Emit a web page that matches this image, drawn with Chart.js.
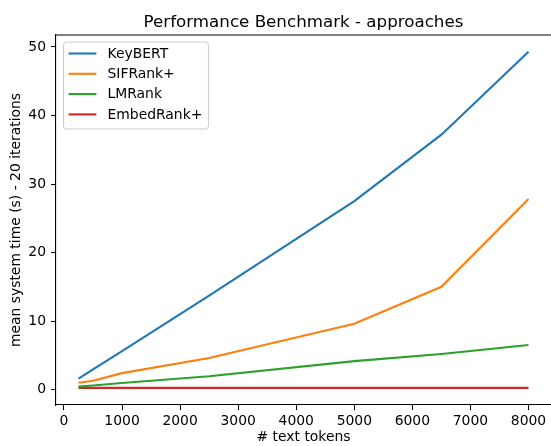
<!DOCTYPE html>
<html><head><meta charset="utf-8">
<script src="https://cdn.jsdelivr.net/npm/chart.js@4/dist/chart.umd.min.js"></script>
<style>html,body{margin:0;padding:0;background:#fff}</style>
</head><body>
<canvas id="c" width="551" height="446"></canvas>
<script>
// ---- data ----
const tokens    = [250, 500, 1000, 2500, 5000, 6500, 8000];
const keybert   = [1.6, 2.95, 5.6, 13.7, 27.5, 37.2, 49.3];
const sifrank   = [1.0, 1.3, 2.4, 4.6, 9.6, 15.0, 27.8];
const lmrank    = [0.45, 0.6, 0.95, 1.95, 4.15, 5.2, 6.5];
const embedrank = [0.25, 0.25, 0.25, 0.25, 0.25, 0.25, 0.25];
const seriesNames = ['KeyBERT', 'SIFRank+', 'LMRank', 'EmbedRank+'];
const xTicks = [0, 1000, 2000, 3000, 4000, 5000, 6000, 7000, 8000];
const yTicks = [0, 10, 20, 30, 40, 50];
const titleText = 'Performance Benchmark - approaches';
const xTitle = '# text tokens';
const yTitle = 'mean system time (s) - 20 iterations';

const colors = ['#1f77b4', '#ff7f0e', '#2ca02c', '#d62728'];
const allSeries = [keybert, sifrank, lmrank, embedrank];
const FS = 13.9;
Chart.defaults.font.family = 'DejaVu Sans';
Chart.defaults.color = '#000';

const extras = {
  id: 'extras',
  afterDraw(chart) {
    const {ctx, chartArea: a} = chart;
    ctx.save();
    // top spine
    ctx.strokeStyle = '#000'; ctx.lineWidth = 1.1;
    ctx.beginPath(); ctx.moveTo(a.left - 0.5, a.top); ctx.lineTo(a.right + 1, a.top); ctx.stroke();
    // title
    ctx.fillStyle = '#000';
    ctx.font = '16.7px "DejaVu Sans"';
    ctx.textAlign = 'center'; ctx.textBaseline = 'alphabetic';
    ctx.fillText(titleText, (a.left + a.right) / 2, a.top - 8.3);
    // legend
    ctx.font = FS + 'px "DejaVu Sans"';
    let maxW = 0;
    seriesNames.forEach(n => { maxW = Math.max(maxW, ctx.measureText(n).width); });
    const lx = a.left + 7, ly = a.top + 6.5;
    const w = 5.6 + 27.8 + 11.1 + maxW + 5.6;
    const h = 87;
    ctx.beginPath();
    ctx.roundRect(lx + 0.5, ly + 0.5, w, h, 3);
    ctx.fillStyle = 'rgba(255,255,255,0.8)'; ctx.fill();
    ctx.strokeStyle = '#cccccc'; ctx.lineWidth = 1; ctx.stroke();
    seriesNames.forEach((n, i) => {
      const cy = ly + 12 + i * 20.3;
      ctx.strokeStyle = colors[i]; ctx.lineWidth = 2.1;
      ctx.beginPath(); ctx.moveTo(lx + 5.6, cy); ctx.lineTo(lx + 5.6 + 27.8, cy); ctx.stroke();
      ctx.fillStyle = '#000'; ctx.textAlign = 'left'; ctx.textBaseline = 'middle';
      ctx.fillText(n, lx + 5.6 + 27.8 + 11.1, cy + 0.5);
    });
    ctx.restore();
  }
};

const axisCommon = {
  type: 'linear',
  grid: { display: true, drawOnChartArea: false, drawTicks: true, tickLength: 5, tickColor: '#000', tickWidth: 1.1 },
  border: { display: true, color: '#000', width: 1.1 },
};

new Chart(document.getElementById('c'), {
  type: 'line',
  data: {
    datasets: allSeries.map((s, i) => ({
      label: seriesNames[i],
      data: tokens.map((x, j) => ({x: x, y: s[j]})),
      borderColor: colors[i], backgroundColor: colors[i],
      borderWidth: 2.1, pointRadius: 0, tension: 0, fill: false
    }))
  },
  options: {
    responsive: false, animation: false, events: [],
    layout: { padding: { top: 35, left: 0, right: 0, bottom: 0 } },
    plugins: { legend: { display: false }, title: { display: false }, tooltip: { enabled: false } },
    scales: {
      x: Object.assign({}, axisCommon, {
        min: -137.5, max: 8387.5,
        afterBuildTicks: ax => { ax.ticks = xTicks.map(v => ({value: v})); },
        afterFit: ax => { ax.height = 41; },
        ticks: { font: { size: FS }, color: '#000', padding: 3, maxRotation: 0, autoSkip: false, callback: v => String(v) },
        title: { display: true, text: xTitle, font: { size: FS }, color: '#000', padding: { top: 0, bottom: 0 } }
      }),
      y: Object.assign({}, axisCommon, {
        min: -2.25, max: 51.75,
        afterBuildTicks: ax => { ax.ticks = yTicks.map(v => ({value: v})); },
        afterFit: ax => { ax.width = 56; },
        ticks: { font: { size: FS }, color: '#000', padding: 5, autoSkip: false, callback: v => String(v) },
        title: { display: true, text: yTitle, font: { size: FS }, color: '#000', padding: { top: 8.5, bottom: 0 } }
      })
    }
  },
  plugins: [extras]
});
</script>
</body></html>
